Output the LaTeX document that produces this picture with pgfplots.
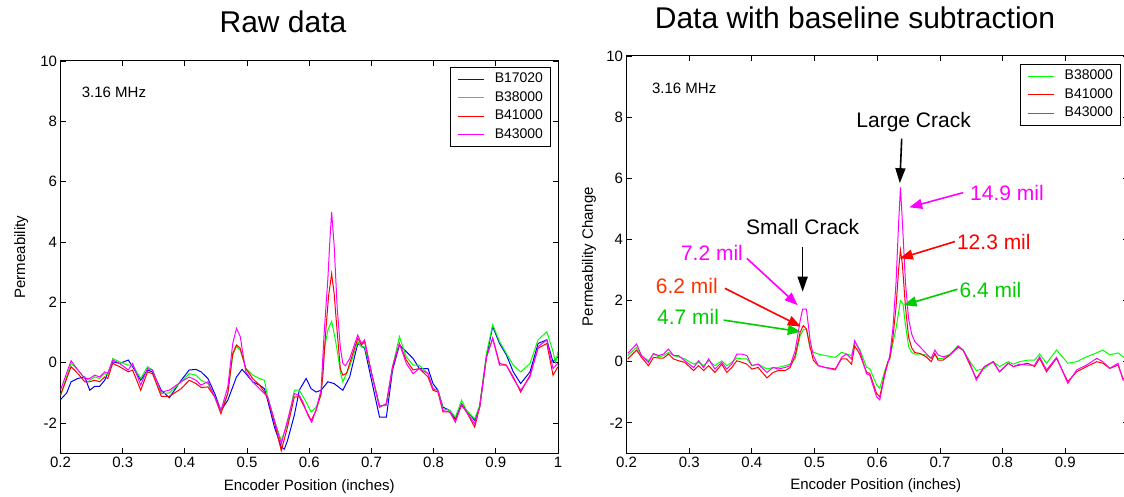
\documentclass[border=0pt]{standalone}
\usepackage{fontspec}
\setmainfont{Liberation Sans}
\usepackage{pgfplots}
\pgfplotsset{compat=1.18}
\usetikzlibrary{arrows.meta}

\definecolor{mgreen}{RGB}{0,255,0}
\definecolor{tgreen}{RGB}{0,204,0}
\definecolor{mmag}{RGB}{255,0,255}
\definecolor{mred}{RGB}{255,0,0}
\definecolor{tora}{RGB}{255,51,0}
\definecolor{mblue}{RGB}{0,0,255}

\pgfplotsset{
  mystyle/.style={
    scale only axis,
    axis line style={line width=1pt},
    tick align=inside, tick pos=both, major tick length=5pt,
    every tick/.style={black, line width=0.8pt},
    ymin=-3, ymax=10, ytick={-2,0,2,4,6,8,10},
    /pgf/number format/assume math mode=true,
    tick label style={font=\fontsize{15}{18}\selectfont},
    label style={font=\fontsize{15}{18}\selectfont},
    clip mode=individual,
    legend cell align=left,
    legend image code/.code={\draw[#1, line width=1pt] (0pt,0pt) -- (26pt,0pt);},
    legend style={anchor=north east, draw=black, line width=1pt, fill=white,
      font=\fontsize{14}{16}\selectfont, inner xsep=7.5pt, inner ysep=5.5pt,
      row sep=5.5pt, nodes={inner sep=0pt, text height=10pt, text depth=3pt},
      /tikz/every odd column/.append style={column sep=10pt}},
    every axis plot/.append style={line width=1pt},
  }
}

\begin{document}
\begin{tikzpicture}
\useasboundingbox (0pt,0pt) rectangle (1124pt,496pt);
\node[font=\fontsize{30}{36}\selectfont] at (283pt,474pt) {Raw data};
\node[font=\fontsize{30}{36}\selectfont] at (855pt,478pt) {Data with baseline subtraction};

% ---------------- Left: raw data
\begin{axis}[mystyle,
  at={(60.5pt,42.7pt)}, anchor=south west,
  width=497.5pt, height=392.3pt,
  xmin=0.2, xmax=1, xtick={0.2,0.3,0.4,0.5,0.6,0.7,0.8,0.9,1},
  xlabel={Encoder Position (inches)}, ylabel={Permeability},
  xlabel style={at={(axis description cs:0.5,-0.085)}, anchor=center},
  ylabel style={at={(axis description cs:-0.079,0.5)}, anchor=center},
  legend style={at={(0.986,0.985)}},
]
\addplot[mblue] coordinates {(0.200,-1.22)(0.210,-1.0)(0.217,-0.63)(0.228,-0.52)(0.239,-0.47)(0.247,-0.91)(0.255,-0.78)(0.263,-0.78)(0.271,-0.58)(0.284,0.03)(0.295,-0.02)(0.309,0.09)(0.316,-0.13)(0.329,-0.58)(0.340,-0.24)(0.348,-0.30)(0.362,-0.91)(0.375,-1.16)(0.394,-0.58)(0.407,-0.24)(0.418,-0.22)(0.426,-0.30)(0.437,-0.52)(0.448,-1.02)(0.458,-1.58)(0.469,-1.24)(0.477,-0.80)(0.483,-0.47)(0.492,-0.22)(0.498,-0.36)(0.509,-0.63)(0.520,-0.74)(0.528,-0.86)(0.533,-1.24)(0.544,-2.13)(0.555,-2.80)(0.560,-2.86)(0.565,-2.58)(0.576,-1.74)(0.584,-0.91)(0.595,-0.52)(0.603,-0.86)(0.611,-0.97)(0.619,-0.91)(0.630,-0.63)(0.640,-0.69)(0.654,-0.91)(0.665,-0.47)(0.678,0.64)(0.689,0.48)(0.699,-0.47)(0.713,-1.80)(0.724,-1.80)(0.734,-0.24)(0.745,0.59)(0.756,0.37)(0.767,0.14)(0.777,-0.19)(0.791,-0.19)(0.799,-0.69)(0.807,-0.91)(0.815,-1.47)(0.826,-1.58)(0.835,-1.86)(0.845,-1.36)(0.853,-1.58)(0.866,-1.91)(0.874,-1.47)(0.885,0.20)(0.895,1.20)(0.906,0.64)(0.917,0.26)(0.928,-0.30)(0.940,-0.69)(0.955,-0.30)(0.968,0.64)(0.982,0.76)(0.992,0.03)(1.0,0.20)};
\addlegendentry{B17020\hspace{6pt}}
\addplot[mgreen] coordinates {(0.200,-1.08)(0.217,-0.02)(0.228,-0.24)(0.239,-0.52)(0.247,-0.58)(0.255,-0.47)(0.263,-0.52)(0.271,-0.36)(0.276,-0.41)(0.284,0.14)(0.295,0.03)(0.309,-0.08)(0.316,-0.08)(0.329,-0.52)(0.340,-0.13)(0.348,-0.24)(0.362,-1.02)(0.375,-1.00)(0.394,-0.63)(0.407,-0.36)(0.418,-0.41)(0.426,-0.58)(0.437,-0.69)(0.448,-1.13)(0.458,-1.58)(0.469,-1.02)(0.477,0.26)(0.483,0.53)(0.489,0.42)(0.498,-0.19)(0.509,-0.41)(0.520,-0.52)(0.528,-0.58)(0.533,-1.13)(0.544,-1.91)(0.555,-2.58)(0.565,-2.02)(0.576,-0.91)(0.584,-0.91)(0.595,-1.30)(0.603,-1.63)(0.611,-1.47)(0.619,-1.08)(0.624,0.42)(0.630,1.09)(0.636,1.37)(0.641,0.87)(0.645,0.40)(0.650,-0.30)(0.654,-0.63)(0.665,-0.13)(0.678,0.70)(0.684,0.53)(0.689,0.53)(0.699,-0.24)(0.713,-1.41)(0.724,-1.41)(0.734,-0.13)(0.745,0.87)(0.756,0.20)(0.767,-0.08)(0.777,-0.08)(0.791,-0.36)(0.799,-0.86)(0.807,-0.91)(0.815,-1.52)(0.826,-1.58)(0.835,-1.80)(0.845,-1.24)(0.853,-1.58)(0.866,-1.86)(0.874,-1.41)(0.885,0.31)(0.895,1.26)(0.906,0.70)(0.917,0.31)(0.928,-0.08)(0.940,-0.30)(0.955,-0.02)(0.968,0.76)(0.982,1.03)(0.992,0.37)(0.996,0.0)(1.0,0.37)};
\addlegendentry{B38000\hspace{6pt}}
\addplot[mred] coordinates {(0.200,-1.08)(0.217,-0.13)(0.228,-0.36)(0.239,-0.63)(0.247,-0.63)(0.255,-0.58)(0.263,-0.63)(0.271,-0.47)(0.276,-0.52)(0.284,-0.02)(0.295,-0.13)(0.309,-0.30)(0.316,-0.24)(0.329,-0.91)(0.340,-0.30)(0.348,-0.36)(0.362,-1.11)(0.375,-1.11)(0.394,-0.86)(0.407,-0.58)(0.418,-0.69)(0.426,-0.82)(0.437,-0.80)(0.448,-1.13)(0.458,-1.69)(0.469,-1.02)(0.477,0.31)(0.483,0.59)(0.489,0.48)(0.498,-0.19)(0.509,-0.52)(0.520,-0.74)(0.528,-0.97)(0.533,-1.16)(0.544,-1.97)(0.555,-2.91)(0.565,-2.13)(0.576,-1.13)(0.584,-1.13)(0.595,-1.58)(0.603,-1.91)(0.611,-1.58)(0.619,-1.02)(0.622,-0.40)(0.626,0.90)(0.631,2.20)(0.636,2.95)(0.640,2.30)(0.645,1.00)(0.650,-0.20)(0.654,-0.41)(0.660,-0.35)(0.665,-0.02)(0.678,0.81)(0.684,0.59)(0.689,0.70)(0.699,-0.24)(0.713,-1.47)(0.724,-1.36)(0.734,-0.13)(0.745,0.64)(0.756,0.09)(0.767,-0.24)(0.777,-0.19)(0.791,-0.47)(0.799,-0.91)(0.807,-0.97)(0.815,-1.63)(0.826,-1.63)(0.835,-1.91)(0.845,-1.41)(0.853,-1.63)(0.866,-2.13)(0.874,-1.47)(0.885,0.20)(0.895,0.81)(0.906,-0.02)(0.917,-0.08)(0.928,-0.47)(0.940,-0.97)(0.955,-0.41)(0.968,0.48)(0.982,0.64)(0.992,-0.41)(1.0,-0.13)};
\addlegendentry{B41000\hspace{6pt}}
\addplot[mmag] coordinates {(0.200,-0.91)(0.217,0.07)(0.228,-0.24)(0.239,-0.52)(0.247,-0.52)(0.255,-0.41)(0.263,-0.47)(0.271,-0.30)(0.276,-0.36)(0.284,0.09)(0.295,-0.02)(0.309,-0.24)(0.316,-0.02)(0.329,-0.74)(0.340,-0.19)(0.348,-0.24)(0.362,-0.97)(0.375,-0.91)(0.394,-0.63)(0.407,-0.47)(0.418,-0.58)(0.426,-0.74)(0.437,-0.63)(0.448,-1.13)(0.458,-1.58)(0.469,-0.80)(0.477,0.64)(0.483,1.14)(0.489,0.87)(0.498,-0.30)(0.509,-0.63)(0.520,-0.86)(0.528,-1.02)(0.533,-1.13)(0.544,-1.91)(0.555,-2.69)(0.565,-1.91)(0.576,-1.02)(0.584,-1.08)(0.590,-1.30)(0.598,-1.75)(0.604,-1.97)(0.611,-1.55)(0.619,-0.90)(0.624,1.00)(0.630,2.80)(0.633,4.00)(0.636,5.00)(0.640,3.90)(0.645,1.80)(0.650,0.50)(0.654,-0.02)(0.658,-0.10)(0.665,0.14)(0.678,0.92)(0.684,0.64)(0.689,0.76)(0.699,-0.24)(0.713,-1.47)(0.724,-1.36)(0.734,-0.13)(0.745,0.64)(0.756,-0.02)(0.767,-0.36)(0.777,-0.19)(0.791,-0.36)(0.799,-0.86)(0.807,-0.91)(0.815,-1.58)(0.826,-1.63)(0.835,-1.97)(0.845,-1.36)(0.853,-1.63)(0.866,-2.02)(0.874,-1.47)(0.885,0.20)(0.895,0.81)(0.906,-0.08)(0.917,-0.08)(0.928,-0.52)(0.940,-0.91)(0.955,-0.47)(0.968,0.53)(0.982,0.76)(0.992,-0.19)(1.0,-0.02)};
\addlegendentry{B43000\hspace{6pt}}
\node[font=\fontsize{15}{18}\selectfont] at (axis cs:0.286,8.97) {3.16 MHz};
\end{axis}

% ---------------- Right: baseline subtraction
\begin{axis}[mystyle,
  at={(626.5pt,42.6pt)}, anchor=south west,
  width=501.5pt, height=397.4pt,
  xmin=0.2, xmax=1, xtick={0.2,0.3,0.4,0.5,0.6,0.7,0.8,0.9},
  xlabel={Encoder Position (inches)}, ylabel={Permeability Change},
  xlabel style={at={(axis description cs:0.497,-0.082)}, anchor=center},
  ylabel style={at={(axis description cs:-0.075,0.495)}, anchor=center},
  legend style={at={(0.986,0.98)}},
]
\addplot[mgreen] coordinates {(0.202,0.20)(0.216,0.47)(0.224,0.20)(0.235,0.03)(0.243,0.25)(0.251,0.16)(0.259,0.20)(0.267,0.30)(0.275,0.20)(0.283,0.16)(0.293,0.09)(0.307,-0.08)(0.315,-0.02)(0.323,-0.13)(0.331,0.03)(0.341,-0.13)(0.352,0.03)(0.360,-0.13)(0.368,-0.02)(0.376,0.12)(0.384,0.09)(0.392,0.09)(0.400,-0.13)(0.410,-0.08)(0.424,-0.24)(0.434,-0.19)(0.442,-0.19)(0.453,-0.13)(0.461,-0.08)(0.469,0.09)(0.477,0.85)(0.482,1.04)(0.487,1.07)(0.493,0.41)(0.498,0.31)(0.506,0.25)(0.517,0.20)(0.533,0.14)(0.543,0.31)(0.551,0.25)(0.559,0.20)(0.564,0.63)(0.572,0.41)(0.583,-0.19)(0.588,-0.22)(0.599,-0.76)(0.604,-0.87)(0.612,-0.30)(0.617,0.00)(0.620,0.10)(0.625,0.60)(0.630,1.10)(0.634,1.60)(0.637,2.00)(0.641,1.90)(0.645,1.20)(0.650,0.50)(0.655,0.30)(0.660,0.25)(0.668,0.25)(0.678,0.22)(0.686,0.11)(0.692,0.22)(0.697,0.11)(0.705,0.11)(0.716,0.25)(0.729,0.52)(0.737,0.38)(0.748,0.00)(0.758,-0.29)(0.771,-0.22)(0.785,0.00)(0.795,-0.16)(0.809,0.00)(0.817,-0.08)(0.827,0.00)(0.840,0.05)(0.851,0.05)(0.859,0.25)(0.870,-0.05)(0.886,0.38)(0.904,-0.05)(0.918,0.00)(0.934,0.16)(0.950,0.29)(0.960,0.38)(0.971,0.22)(0.984,0.29)(0.992,0.16)(1.0,0.05)};
\addlegendentry{B38000\hspace{6pt}}
\addplot[mred] coordinates {(0.202,0.09)(0.216,0.38)(0.224,0.14)(0.235,-0.13)(0.243,0.14)(0.251,0.12)(0.259,0.12)(0.267,0.25)(0.275,0.09)(0.283,0.03)(0.293,-0.02)(0.307,-0.29)(0.315,-0.13)(0.323,-0.29)(0.331,-0.13)(0.341,-0.35)(0.352,-0.08)(0.360,-0.35)(0.368,-0.19)(0.376,0.03)(0.384,-0.02)(0.392,-0.08)(0.400,-0.24)(0.410,-0.19)(0.424,-0.53)(0.434,-0.35)(0.442,-0.29)(0.453,-0.29)(0.461,-0.19)(0.469,0.20)(0.477,0.96)(0.482,1.18)(0.487,1.07)(0.493,0.47)(0.498,0.05)(0.506,-0.13)(0.517,-0.19)(0.533,-0.24)(0.543,0.09)(0.551,0.09)(0.559,-0.08)(0.564,0.52)(0.572,0.25)(0.583,-0.35)(0.588,-0.38)(0.599,-1.04)(0.604,-1.15)(0.612,-0.38)(0.617,0.00)(0.620,0.10)(0.625,0.80)(0.630,1.80)(0.634,3.00)(0.637,3.65)(0.640,3.20)(0.645,1.80)(0.650,0.80)(0.655,0.45)(0.660,0.30)(0.668,0.27)(0.678,0.16)(0.686,0.00)(0.692,0.27)(0.697,0.05)(0.705,0.05)(0.716,0.22)(0.729,0.47)(0.737,0.38)(0.748,-0.11)(0.758,-0.55)(0.771,-0.16)(0.785,0.00)(0.795,-0.33)(0.809,-0.05)(0.817,-0.16)(0.827,-0.11)(0.840,-0.05)(0.851,-0.16)(0.859,0.11)(0.870,-0.33)(0.886,0.11)(0.904,-0.65)(0.918,-0.33)(0.934,-0.16)(0.950,0.00)(0.960,-0.05)(0.971,-0.22)(0.984,-0.11)(0.992,-0.55)(1.0,-0.60)};
\addlegendentry{B41000\hspace{6pt}}
\addplot[mmag] coordinates {(0.202,0.27)(0.216,0.58)(0.224,0.20)(0.235,-0.02)(0.243,0.27)(0.251,0.20)(0.259,0.25)(0.267,0.41)(0.275,0.20)(0.283,0.20)(0.293,0.03)(0.307,-0.19)(0.315,0.03)(0.323,-0.19)(0.331,0.09)(0.341,-0.24)(0.352,-0.02)(0.360,-0.24)(0.368,-0.08)(0.376,0.25)(0.384,0.25)(0.392,0.20)(0.400,-0.13)(0.410,-0.08)(0.424,-0.35)(0.434,-0.19)(0.442,-0.24)(0.453,-0.19)(0.461,-0.13)(0.469,0.36)(0.477,1.34)(0.481,1.72)(0.487,1.72)(0.493,0.69)(0.498,0.20)(0.506,-0.13)(0.517,-0.19)(0.533,-0.27)(0.543,0.14)(0.551,0.25)(0.559,0.09)(0.564,0.69)(0.572,0.36)(0.583,-0.40)(0.588,-0.44)(0.599,-1.15)(0.604,-1.25)(0.612,-0.44)(0.617,-0.05)(0.620,0.20)(0.625,1.10)(0.630,2.60)(0.634,4.50)(0.637,5.70)(0.640,4.60)(0.645,2.60)(0.650,1.40)(0.655,0.90)(0.660,0.65)(0.668,0.49)(0.678,0.27)(0.686,0.11)(0.692,0.38)(0.697,0.22)(0.705,0.16)(0.716,0.22)(0.729,0.51)(0.737,0.38)(0.748,-0.05)(0.758,-0.60)(0.771,-0.16)(0.785,0.00)(0.795,-0.33)(0.809,-0.05)(0.817,-0.16)(0.827,-0.08)(0.840,-0.11)(0.851,-0.11)(0.859,0.16)(0.870,-0.27)(0.886,0.14)(0.904,-0.71)(0.918,-0.27)(0.934,-0.11)(0.950,0.11)(0.960,0.00)(0.971,-0.22)(0.984,-0.05)(0.992,-0.60)(1.0,-0.60)};
\addlegendentry{B43000\hspace{6pt}}
\node[font=\fontsize{15}{18}\selectfont] at (axis cs:0.292,8.94) {3.16 MHz};
% annotations
\node[font=\fontsize{21}{25}\selectfont] at (axis cs:0.658,7.85) {Large Crack};
\draw[black, line width=1.6pt, -{Triangle[length=15pt,width=10pt]}] (axis cs:0.639,7.3) -- (axis cs:0.636,5.84);
\node[font=\fontsize{21}{25}\selectfont, anchor=west, text=mmag, inner sep=0pt] at (axis cs:0.748,5.51) {14.9 mil};
\draw[mmag, line width=1.6pt, -{Triangle[length=13pt,width=10pt]}] (axis cs:0.737,5.53) -- (axis cs:0.651,5.05);
\node[font=\fontsize{21}{25}\selectfont, anchor=west, text=mred, inner sep=0pt] at (axis cs:0.727,3.93) {12.3 mil};
\draw[mred, line width=1.6pt, -{Triangle[length=13pt,width=10pt]}] (axis cs:0.724,3.93) -- (axis cs:0.636,3.38);
\node[font=\fontsize{21}{25}\selectfont, anchor=west, text=tgreen, inner sep=0pt] at (axis cs:0.731,2.35) {6.4 mil};
\draw[tgreen, line width=1.6pt, -{Triangle[length=13pt,width=10pt]}] (axis cs:0.728,2.37) -- (axis cs:0.642,1.85);
\node[font=\fontsize{21}{25}\selectfont] at (axis cs:0.481,4.42) {Small Crack};
\draw[black, line width=1.6pt, -{Triangle[length=15pt,width=10pt]}] (axis cs:0.481,3.76) -- (axis cs:0.481,2.29);
\node[font=\fontsize{21}{25}\selectfont, anchor=east, text=mmag, inner sep=0pt] at (axis cs:0.386,3.55) {7.2 mil};
\draw[mmag, line width=1.6pt, -{Triangle[length=13pt,width=10pt]}] (axis cs:0.392,3.38) -- (axis cs:0.473,1.85);
\node[font=\fontsize{21}{25}\selectfont, anchor=east, text=tora, inner sep=0pt] at (axis cs:0.346,2.48) {6.2 mil};
\draw[mred, line width=1.6pt, -{Triangle[length=13pt,width=10pt]}] (axis cs:0.357,2.40) -- (axis cs:0.478,1.15);
\node[font=\fontsize{21}{25}\selectfont, anchor=east, text=tgreen, inner sep=0pt] at (axis cs:0.348,1.45) {4.7 mil};
\draw[tgreen, line width=1.6pt, -{Triangle[length=13pt,width=10pt]}] (axis cs:0.355,1.36) -- (axis cs:0.478,0.98);
\end{axis}
\end{tikzpicture}
\end{document}
